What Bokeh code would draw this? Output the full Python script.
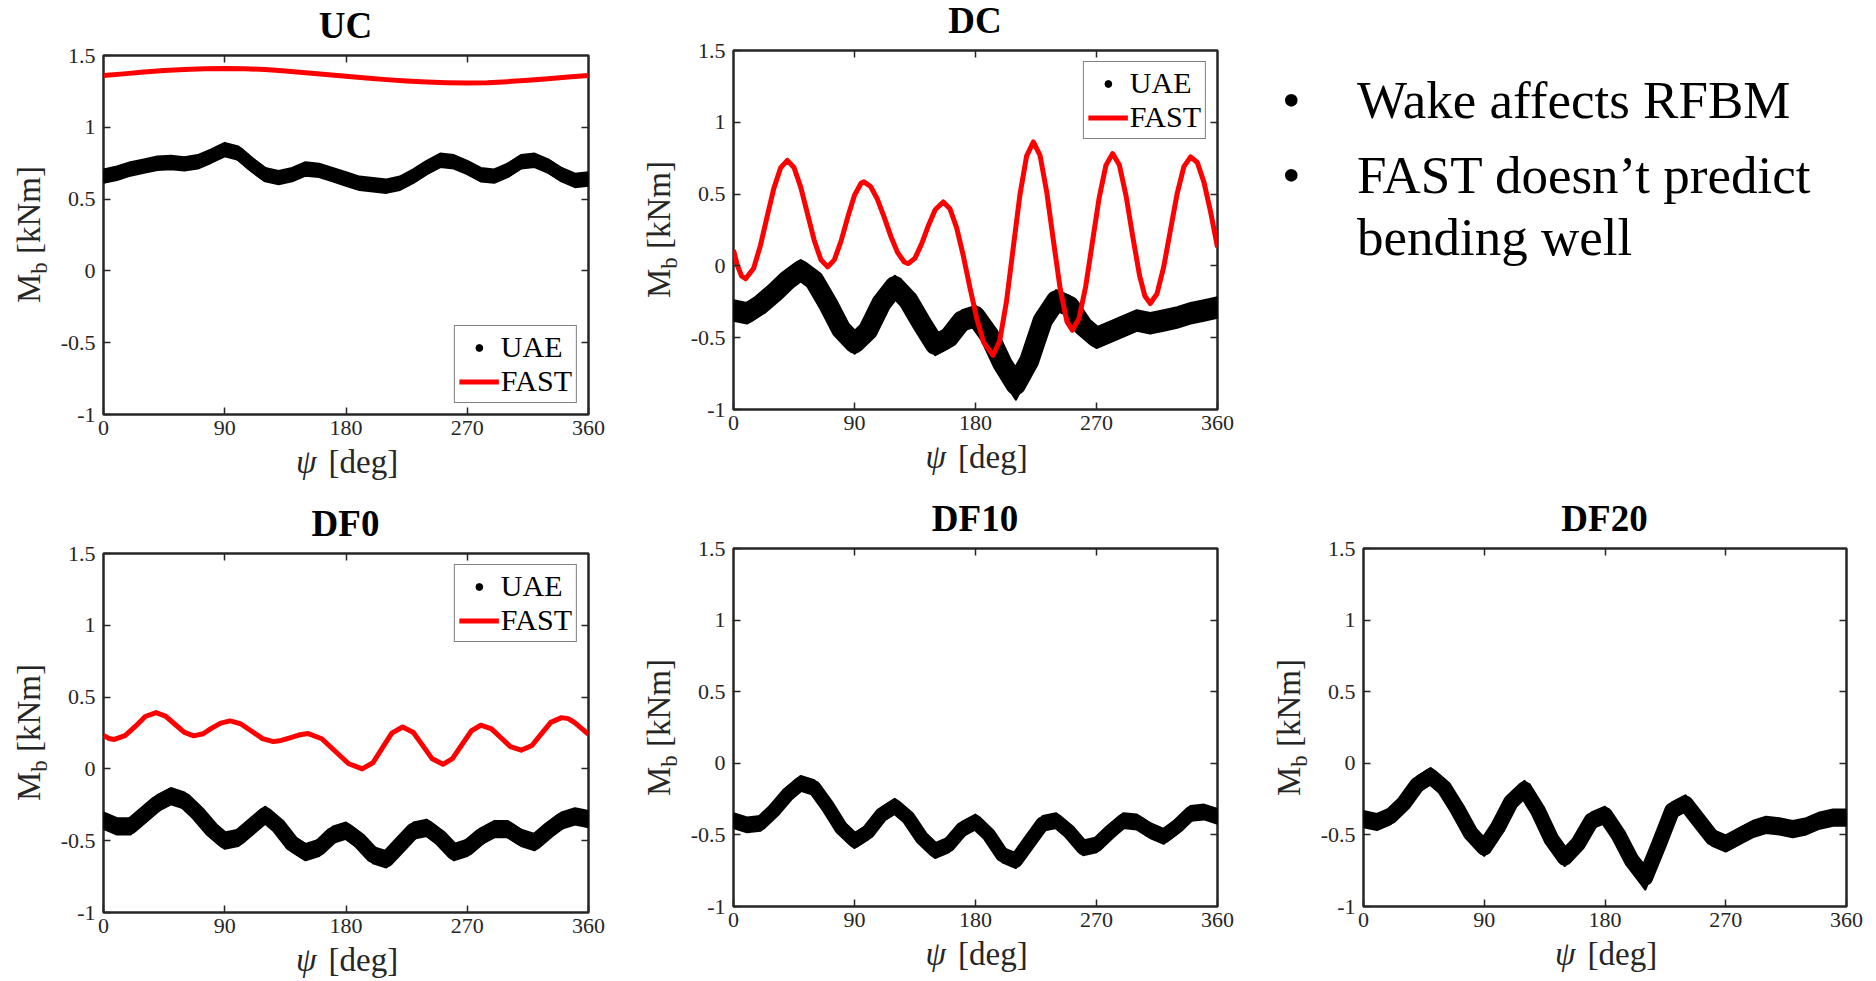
from bokeh.plotting import figure
from bokeh.models import Range1d, FixedTicker, LinearAxis, Legend, LegendItem, Div
from bokeh.layouts import row, column
from bokeh.embed import file_html
from bokeh.resources import INLINE

# ---------------- data ----------------
x_ticks = [0, 90, 180, 270, 360]
x_tick_labels = ["0", "90", "180", "270", "360"]
y_ticks = [-1, -0.5, 0, 0.5, 1, 1.5]
y_tick_labels = ["-1", "-0.5", "0", "0.5", "1", "1.5"]

uae_psi = [0, 10, 20, 30, 40, 50, 60, 70, 80, 90, 100, 110, 120, 130, 140, 150, 160, 170, 180,
           190, 200, 210, 220, 230, 240, 250, 260, 270, 280, 290, 300, 310, 320, 330, 340, 350, 360]

uc_uae = [0.66, 0.68, 0.71, 0.73, 0.75, 0.755, 0.745, 0.76, 0.80, 0.845, 0.82, 0.74, 0.67, 0.65, 0.67,
          0.71, 0.70, 0.67, 0.64, 0.61, 0.60, 0.59, 0.61, 0.66, 0.72, 0.77, 0.76, 0.72, 0.67, 0.66,
          0.70, 0.76, 0.77, 0.73, 0.67, 0.63, 0.64]
uc_uae_hw = [0.045] * 37

dc_uae = [-0.31, -0.33, -0.27, -0.19, -0.10, -0.03, -0.10, -0.26, -0.44, -0.54, -0.45, -0.26, -0.14,
          -0.24, -0.40, -0.55, -0.50, -0.38, -0.35, -0.48, -0.68, -0.83, -0.66, -0.38, -0.24, -0.28,
          -0.42, -0.50, -0.46, -0.42, -0.38, -0.40, -0.38, -0.36, -0.33, -0.31, -0.29]
dc_uae_hw = [0.07] * 19 + [0.08, 0.10, 0.10, 0.09] + [0.07] * 14

df0_uae = [-0.36, -0.40, -0.40, -0.32, -0.24, -0.19, -0.22, -0.31, -0.42, -0.50, -0.48, -0.40, -0.32,
           -0.40, -0.52, -0.58, -0.55, -0.46, -0.43, -0.50, -0.60, -0.63, -0.53, -0.43, -0.41, -0.48,
           -0.58, -0.55, -0.47, -0.42, -0.42, -0.48, -0.51, -0.43, -0.36, -0.33, -0.35]
df0_uae_hw = [0.055] * 37

df10_uae = [-0.40, -0.43, -0.42, -0.33, -0.22, -0.14, -0.17, -0.30, -0.45, -0.54, -0.48, -0.36, -0.30,
            -0.38, -0.52, -0.61, -0.57, -0.46, -0.41, -0.50, -0.64, -0.68, -0.55, -0.42, -0.40, -0.48,
            -0.59, -0.57, -0.48, -0.40, -0.41, -0.47, -0.51, -0.44, -0.35, -0.34, -0.37]
df10_uae_hw = [0.05] * 37

df20_uae = [-0.39, -0.41, -0.37, -0.28, -0.15, -0.09, -0.17, -0.32, -0.49, -0.59, -0.45, -0.27, -0.18,
            -0.33, -0.53, -0.66, -0.56, -0.40, -0.36, -0.50, -0.68, -0.80, -0.57, -0.33, -0.28, -0.40,
            -0.52, -0.56, -0.51, -0.46, -0.43, -0.44, -0.46, -0.44, -0.40, -0.38, -0.38]
df20_uae_hw = [0.055] * 19 + [0.06, 0.07, 0.08, 0.07] + [0.055] * 14

uc_fast_psi = [0, 15, 30, 45, 60, 75, 90, 105, 120, 135, 150, 165, 180, 195, 210, 225, 240, 255, 270,
               285, 300, 315, 330, 345, 360]
uc_fast = [1.36, 1.372, 1.385, 1.395, 1.402, 1.408, 1.41, 1.408, 1.402, 1.392, 1.38, 1.368, 1.355,
           1.343, 1.332, 1.322, 1.315, 1.31, 1.308, 1.31, 1.318, 1.328, 1.338, 1.35, 1.36]

dc_fast_psi = [0, 3, 6, 9, 15, 20, 25, 30, 35, 40, 45, 50, 55, 60, 65, 70, 75, 80, 85, 90, 95, 97,
               102, 107, 112, 117, 122, 127, 130, 135, 140, 145, 150, 156, 161, 166, 171, 176, 181,
               186, 193, 198, 203, 208, 213, 218, 223, 228, 233, 238, 243, 248, 252, 257, 262, 267,
               272, 277, 282, 287, 292, 297, 302, 306, 310, 315, 320, 325, 330, 335, 340, 345, 350,
               355, 360]
dc_fast = [0.11, 0.0, -0.07, -0.09, -0.016, 0.141, 0.343, 0.540, 0.682, 0.735, 0.685, 0.549, 0.364,
           0.179, 0.043, -0.007, 0.042, 0.172, 0.340, 0.492, 0.577, 0.585, 0.553, 0.465, 0.341, 0.207,
           0.094, 0.027, 0.016, 0.054, 0.155, 0.282, 0.391, 0.445, 0.398, 0.265, 0.068, -0.157,
           -0.368, -0.531, -0.622, -0.523, -0.251, 0.121, 0.492, 0.764, 0.863, 0.770, 0.514, 0.172,
           -0.160, -0.388, -0.448, -0.366, -0.141, 0.167, 0.475, 0.700, 0.782, 0.702, 0.487, 0.202,
           -0.066, -0.210, -0.262, -0.194, -0.007, 0.249, 0.504, 0.691, 0.759, 0.72, 0.58, 0.37, 0.13]

df0_fast_psi = [0, 4, 8, 16, 24, 31, 39, 46, 53, 60, 67, 74, 80, 87, 94, 102, 110, 118, 126, 132, 139,
                146, 152, 162, 172, 182, 192, 200, 207, 214, 222, 230, 237, 244, 252, 259, 266, 273,
                280, 288, 295, 302, 310, 318, 325, 332, 340, 345, 350, 355, 360]
df0_fast = [0.234, 0.212, 0.205, 0.232, 0.299, 0.365, 0.392, 0.368, 0.311, 0.254, 0.23, 0.245, 0.282,
            0.319, 0.334, 0.313, 0.262, 0.211, 0.19, 0.198, 0.218, 0.238, 0.246, 0.210, 0.123, 0.036,
            0.0, 0.043, 0.146, 0.249, 0.292, 0.254, 0.162, 0.070, 0.032, 0.072, 0.168, 0.264, 0.304,
            0.279, 0.217, 0.155, 0.13, 0.163, 0.244, 0.324, 0.357, 0.35, 0.32, 0.28, 0.241]

bullets = ["Wake affects RFBM", "FAST doesn\u2019t predict", "bending well"]

# ---------------- styling ----------------
FONT = "Liberation Serif"
CSSFONT = "'Liberation Serif','Times New Roman',serif"
INK = "#262626"
RED = "#FF0000"
ASC = 0.8375  # baseline position inside a line box whose line-height equals the font size

YL_W = 55      # width of the y-label strip
FIG_TOP = 16   # top border of the figure (above the frame)
FIG_BOT = 36   # bottom border of the figure (tick labels)


def top_for(baseline, fs):
    return baseline - ASC * fs


def make_panel(title, W, H, fl, fw, ft, fh, center, hw,
               fast_psi=None, fast=None, legend_loc=None):
    T = ft - FIG_TOP
    Hf = FIG_TOP + fh + FIG_BOT
    X = H - T - Hf
    fig_w = W - YL_W
    p = figure(width=fig_w, height=Hf, output_backend="svg", toolbar_location=None,
               x_range=Range1d(0, 360), y_range=Range1d(-1, 1.5),
               min_border_left=fl - YL_W, min_border_right=W - fl - fw,
               min_border_top=FIG_TOP, min_border_bottom=FIG_BOT,
               background_fill_color="white", border_fill_color="white",
               outline_line_color=INK, outline_line_width=2.5)
    p.grid.visible = False

    p.xaxis.ticker = FixedTicker(ticks=x_ticks)
    p.xaxis.major_label_overrides = dict(zip(x_ticks, x_tick_labels))
    p.yaxis.ticker = FixedTicker(ticks=y_ticks)
    p.yaxis.major_label_overrides = dict(zip(y_ticks, y_tick_labels))
    for ax in [p.xaxis[0], p.yaxis[0]]:
        ax.axis_line_color = None
        ax.major_tick_in = 7
        ax.major_tick_out = 0
        ax.major_tick_line_color = INK
        ax.major_tick_line_width = 1.5
        ax.minor_tick_line_color = None
        ax.major_label_text_font = FONT
        ax.major_label_text_font_size = "22px"
        ax.major_label_text_color = INK
    p.xaxis.major_label_standoff = 6
    p.yaxis.major_label_standoff = 8

    for place, ticks in (("above", x_ticks[1:-1]), ("right", y_ticks[1:-1])):
        ax = LinearAxis(ticker=FixedTicker(ticks=ticks), axis_line_color=None,
                        major_tick_in=7, major_tick_out=0, major_tick_line_color=INK,
                        major_tick_line_width=1.5, minor_tick_line_color=None,
                        major_label_standoff=0, major_label_text_font_size="1px",
                        major_label_text_color=None)
        p.add_layout(ax, place)

    # UAE measurements: a dense black band
    lo = [c - h for c, h in zip(center, hw)]
    hi = [c + h for c, h in zip(center, hw)]
    p.varea(x=uae_psi, y1=lo, y2=hi, fill_color="black")
    band_px = 2 * min(hw) * fh / 2.5
    p.line(uae_psi, center, line_color="black", line_width=band_px, line_join="round",
           line_cap="round")
    p.line(uae_psi, lo, line_color="black", line_width=2.5, line_join="round")
    p.line(uae_psi, hi, line_color="black", line_width=2.5, line_join="round")
    sc = p.scatter(uae_psi, center, size=6, color="black")

    if fast is not None:
        ln = p.line(fast_psi, fast, line_color=RED, line_width=5, line_join="round")
        leg = Legend(items=[LegendItem(label="UAE", renderers=[sc]),
                            LegendItem(label="FAST", renderers=[ln])],
                     location=legend_loc, margin=11, padding=4, spacing=0,
                     glyph_width=40, glyph_height=17, label_height=34, label_standoff=2,
                     label_text_font=FONT, label_text_font_size="30px", label_text_color="black",
                     border_line_color="black", border_line_width=1.5,
                     background_fill_color="white", background_fill_alpha=1.0)
        p.add_layout(leg)

    # ---- title strip ----
    tfs = 37
    t_html = (f'<div style="position:relative;width:{W}px;height:{T}px;overflow:visible;">'
              f'<div style="position:absolute;left:{fl}px;width:{fw}px;top:{top_for(T - 17 + FIG_TOP, tfs):.1f}px;'
              f'text-align:center;white-space:nowrap;font-family:{CSSFONT};font-weight:bold;'
              f'font-size:{tfs}px;line-height:{tfs}px;color:#000;">{title}</div></div>')
    title_div = Div(text=t_html, width=W, height=T, margin=0)

    # ---- y-label strip (rotated) ----
    yfs = 33
    cy = FIG_TOP + fh / 2
    cxr = 40 - (ASC * yfs - yfs / 2)
    y_html = (f'<div style="position:relative;width:{YL_W}px;height:{Hf}px;overflow:visible;">'
              f'<div style="position:absolute;left:{cxr - 100:.1f}px;top:{cy - yfs / 2:.1f}px;'
              f'width:200px;height:{yfs}px;text-align:center;white-space:nowrap;'
              f'transform:rotate(-90deg);transform-origin:50% 50%;font-family:{CSSFONT};'
              f'font-size:{yfs}px;line-height:{yfs}px;color:{INK};">M'
              f'<span style="font-size:23px;position:relative;top:7px;">b</span> [kNm]</div></div>')
    ylab_div = Div(text=y_html, width=YL_W, height=Hf, margin=0)

    # ---- x-label strip ----
    xfs = 33
    cx = fl + fw / 2
    xb = 60 - FIG_BOT
    x_html = (f'<div style="position:relative;width:{W}px;height:{X}px;overflow:visible;">'
              f'<div style="position:absolute;left:0px;width:{cx - 29:.1f}px;top:{top_for(xb, xfs):.1f}px;'
              f'text-align:right;white-space:nowrap;font-family:{CSSFONT};font-style:italic;'
              f'font-size:{xfs}px;line-height:{xfs}px;color:{INK};">\u03c8</div>'
              f'<div style="position:absolute;left:{cx - 17:.1f}px;top:{top_for(xb, xfs):.1f}px;'
              f'white-space:nowrap;font-family:{CSSFONT};'
              f'font-size:{xfs}px;line-height:{xfs}px;color:{INK};">[deg]</div></div>')
    xlab_div = Div(text=x_html, width=W, height=X, margin=0)

    return column(title_div, row(ylab_div, p, spacing=0), xlab_div, spacing=0)


p_uc = make_panel("UC", 630, 490, 103, 485, 55, 359, uc_uae, uc_uae_hw,
                  uc_fast_psi, uc_fast, "bottom_right")
p_dc = make_panel("DC", 630, 490, 103, 484, 50, 359, dc_uae, dc_uae_hw,
                  dc_fast_psi, dc_fast, "top_right")
p_df0 = make_panel("DF0", 630, 491, 103, 485, 63, 359, df0_uae, df0_uae_hw,
                   df0_fast_psi, df0_fast, "top_right")
p_df10 = make_panel("DF10", 630, 491, 103, 484, 58, 358, df10_uae, df10_uae_hw)
p_df20 = make_panel("DF20", 616, 491, 103, 483, 58, 358, df20_uae, df20_uae_hw)

bfs = 53
html = (
    f'<div style="position:relative;width:616px;height:490px;font-family:{CSSFONT};'
    f'font-size:{bfs}px;line-height:{bfs}px;color:#000;">'
    f'<span style="position:absolute;left:22px;top:{top_for(118, bfs):.1f}px;">\u2022</span>'
    f'<span style="position:absolute;left:97px;top:{top_for(118, bfs):.1f}px;white-space:nowrap;">{bullets[0]}</span>'
    f'<span style="position:absolute;left:22px;top:{top_for(193, bfs):.1f}px;">\u2022</span>'
    f'<span style="position:absolute;left:97px;top:{top_for(193, bfs):.1f}px;white-space:nowrap;">{bullets[1]}</span>'
    f'<span style="position:absolute;left:97px;top:{top_for(255, bfs):.1f}px;white-space:nowrap;">{bullets[2]}</span>'
    '</div>'
)
div = Div(text=html, width=616, height=490, margin=0)

layout = column(row(p_uc, p_dc, div, spacing=0), row(p_df0, p_df10, p_df20, spacing=0), spacing=0)

open("out.html", "w").write(file_html(layout, INLINE))
